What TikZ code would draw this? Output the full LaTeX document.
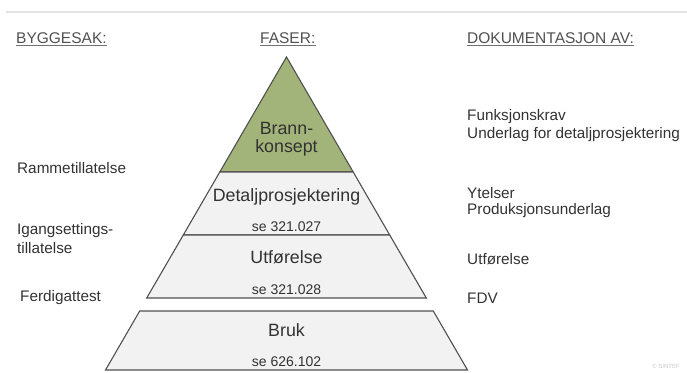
\documentclass[tikz,border=0pt]{standalone}
\usepackage{fontspec}
\setmainfont{Liberation Sans}
\usetikzlibrary{positioning, calc}
\definecolor{pyrgreen}{RGB}{163,180,122}
\definecolor{pyrgray}{RGB}{242,242,242}
\definecolor{txtgray}{RGB}{50,50,50}
\definecolor{edgegray}{RGB}{80,80,80}
\tikzset{
  lvl/.style={
    draw=edgegray, fill=#1,
    line width=1.1pt, line join=miter
  },
  hdr/.style={
    inner sep=0pt, anchor=base west,
    text=txtgray!85, font=\fontsize{15.5}{18}\selectfont
  },
  side/.style={
    inner sep=0pt, anchor=base west,
    text=txtgray, font=\fontsize{15.3}{18}\selectfont
  },
  phase/.style={
    inner sep=0pt, anchor=base,
    text=txtgray, font=\fontsize{17.8}{21}\selectfont
  },
  ref/.style={
    inner sep=0pt, anchor=base,
    text=txtgray, font=\fontsize{14}{16}\selectfont
  },
  uline/.style={draw=txtgray!70, line width=0.9pt}
}

\begin{document}
\begin{tikzpicture}[x=1pt, y=-1pt]
  \useasboundingbox (0,0) rectangle (687,372);
  \draw[gray!22, line width=2pt] (6,12) -- (687,12);

  % headers
  \node[hdr] (byg) at (16,43.5)  {BYGGESAK:};
  \node[hdr] (fas) at (260,43.5) {FASER:};
  \node[hdr] (dok) at (467,43.5) {DOKUMENTASJON AV:};
  \foreach \h in {byg, fas, dok}
    \draw[uline] ([yshift=-2.2pt]\h.base west) -- ([yshift=-2.2pt]\h.base east);

  % pyramid (apex 286.5/57, half width 0.58 per unit down)
  \draw[lvl=pyrgreen] (286.5,57) -- (353.2,172) -- (219.8,172) -- cycle;
  \draw[lvl=pyrgray] (219.8,172) -- (353.2,172) -- (389.7,235) -- (183.3,235) -- cycle;
  \draw[lvl=pyrgray] (183.3,235) -- (389.7,235) -- (426.3,298) -- (146.7,298) -- cycle;
  \draw[lvl=pyrgray] (139.7,311) -- (433.3,311) -- (467.5,370) -- (105.5,370) -- cycle;

  \node[phase] (brann) at (286.5,134) {Brann-};
  \node[phase, below=18.5pt of brann.base, anchor=base] (konsept) {konsept};
  \node[phase] (detalj) at (286.5,201) {Detaljprosjektering};
  \node[ref, below=30.5pt of detalj.base, anchor=base] (detaljref) {se 321.027};
  \node[phase] (utf) at (286.5,263) {Utførelse};
  \node[ref, below=31pt of utf.base, anchor=base] (utfref) {se 321.028};
  \node[phase] (bruk) at (286.5,336.5) {Bruk};
  \node[ref, below=29.5pt of bruk.base, anchor=base] (brukref) {se 626.102};

  % byggesak
  \node[side] (ramme) at (17,173) {Rammetillatelse};
  \node[side] (igang) at (17,234) {Igangsettings-};
  \node[side, below=19pt of igang.base west, anchor=base west] (igang2) {tillatelse};
  \node[side] (ferdig) at (20,301.5) {Ferdigattest};

  % dokumentasjon
  \node[side] (funk) at (467,120) {Funksjonskrav};
  \node[side, below=18.5pt of funk.base west, anchor=base west] (underlag) {Underlag for detaljprosjektering};
  \node[side] (ytelser) at (467,198) {Ytelser};
  \node[side, below=16.5pt of ytelser.base west, anchor=base west] (prod) {Produksjonsunderlag};
  \node[side] (utfdok) at (467,264) {Utførelse};
  \node[side] (fdv) at (467,303) {FDV};

  \node[inner sep=0pt, anchor=base east, text=gray!45, font=\fontsize{6}{7}\selectfont]
    (copy) at (680,368) {© SINTEF};
\end{tikzpicture}
\end{document}
